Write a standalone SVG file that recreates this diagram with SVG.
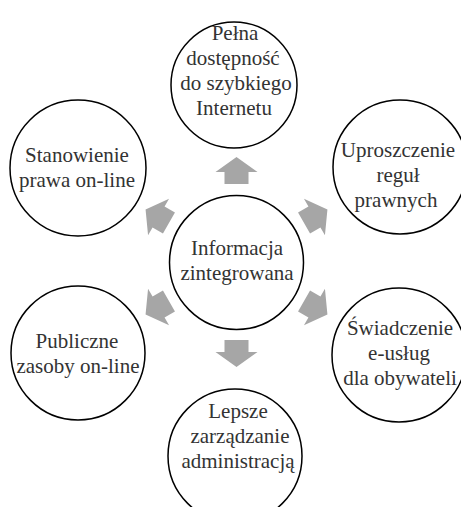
<svg xmlns="http://www.w3.org/2000/svg" width="461" height="507" viewBox="0 0 461 507">
  <defs>
    <style>
      .node circle { fill: #ffffff; stroke: #000000; stroke-width: 1.5; }
      .node text { font-family: "Liberation Serif", "DejaVu Serif", serif; font-size: 21px; fill: #333333; text-anchor: middle; }
      .arrow { fill: #a6a6a6; stroke: none; }
    </style>
    <polygon id="blk" class="arrow" points="0,-105 21,-90 12,-90 12,-78 -12,-78 -12,-90 -21,-90"/>
  </defs>
  <rect width="461" height="507" fill="#ffffff"/>

  <g id="connectors">
    <use href="#blk" transform="translate(236.5,262) rotate(0)"/>
    <use href="#blk" transform="translate(236.5,262) rotate(60)"/>
    <use href="#blk" transform="translate(236.5,262) rotate(120)"/>
    <use href="#blk" transform="translate(236.5,262) rotate(180)"/>
    <use href="#blk" transform="translate(236.5,262) rotate(240)"/>
    <use href="#blk" transform="translate(236.5,262) rotate(300)"/>
  </g>

  <g id="node-center" class="node">
    <circle cx="236.5" cy="262.5" r="67"/>
    <text x="237" y="255">Informacja</text>
    <text x="237" y="280">zintegrowana</text>
  </g>

  <g id="node-top" class="node">
    <circle cx="234" cy="85" r="63"/>
    <text x="235" y="40">Pełna</text>
    <text x="233" y="65">dostępność</text>
    <text x="236" y="90">do szybkiego</text>
    <text x="234" y="115">Internetu</text>
  </g>

  <g id="node-upper-right" class="node">
    <circle cx="400" cy="167" r="67"/>
    <text x="398" y="157">Uproszczenie</text>
    <text x="398" y="182">reguł</text>
    <text x="396" y="207">prawnych</text>
  </g>

  <g id="node-lower-right" class="node">
    <circle cx="399" cy="355" r="67"/>
    <text x="400" y="335">Świadczenie</text>
    <text x="399" y="360">e-usług</text>
    <text x="400" y="385">dla obywateli</text>
  </g>

  <g id="node-bottom" class="node">
    <circle cx="235" cy="456" r="67"/>
    <text x="238" y="418">Lepsze</text>
    <text x="240" y="443">zarządzanie</text>
    <text x="238" y="468">administracją</text>
  </g>

  <g id="node-lower-left" class="node">
    <circle cx="78" cy="353" r="67"/>
    <text x="77" y="348">Publiczne</text>
    <text x="78" y="373">zasoby on-line</text>
  </g>

  <g id="node-upper-left" class="node">
    <circle cx="78" cy="168" r="68"/>
    <text x="77" y="162">Stanowienie</text>
    <text x="77" y="187">prawa on-line</text>
  </g>
</svg>
